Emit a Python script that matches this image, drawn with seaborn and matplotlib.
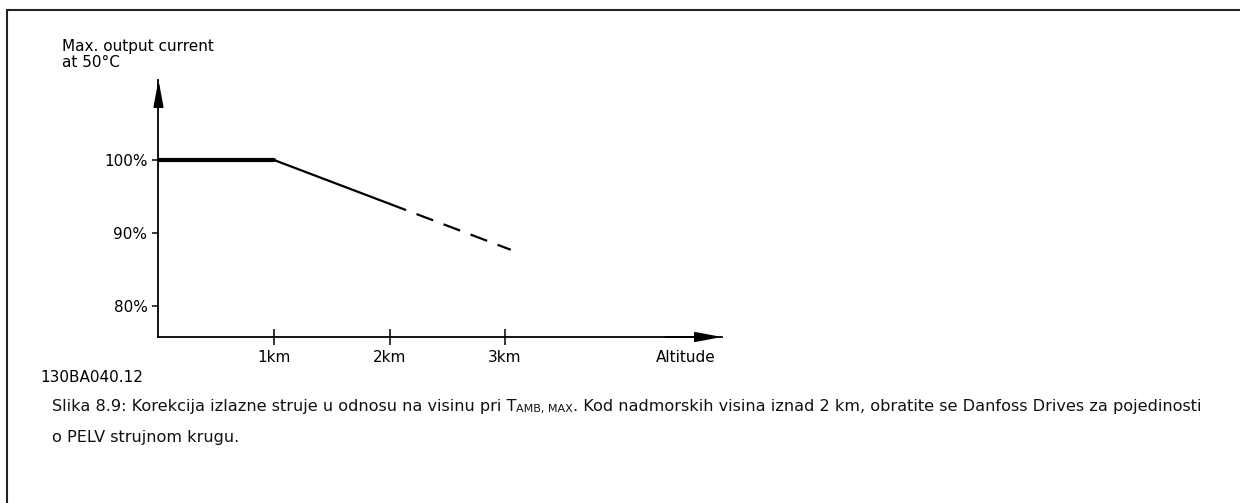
import matplotlib
matplotlib.use("Agg")
import matplotlib.pyplot as plt
import pandas as pd
import seaborn as sns
from matplotlib.lines import Line2D

# derating curve
altitude_km = [0, 1, 2, 3.05]
current_pct = [100, 100, 94, 87.7]
x_ticks = [1, 2, 3]
x_tick_labels = ["1km", "2km", "3km"]
y_ticks = [80, 90, 100]
y_tick_labels = ["80%", "90%", "100%"]

Y_TITLE = "Max. output current\nat 50°C"
X_TITLE = "Altitude"
DRAWING_ID = "130BA040.12"
CAPTION_1A = "Slika 8.9: Korekcija izlazne struje u odnosu na visinu pri T"
CAPTION_SUB = "AMB, MAX"
CAPTION_1B = ". Kod nadmorskih visina iznad 2 km, obratite se Danfoss Drives za pojedinosti"
CAPTION_2 = "o PELV strujnom krugu."

W, H = 1240, 503


def fx(px):
    return px / W


def fy(py):
    return 1 - py / H


sns.set_theme(style="white")
plt.rcParams["font.family"] = ["DejaVu Sans"]
plt.rcParams["text.color"] = "black"

fig = plt.figure(figsize=(12.4, 5.03), dpi=100)
ax = fig.add_axes([fx(158.5), fy(337), fx(722 - 158.5), (337 - 80) / H])

df = pd.DataFrame({"altitude": altitude_km, "current": current_pct})
sns.lineplot(data=df.iloc[0:2], x="altitude", y="current", color="black", lw=3, ax=ax)
sns.lineplot(data=df.iloc[1:3], x="altitude", y="current", color="black", lw=1.6, ax=ax)
sns.lineplot(data=df.iloc[2:4], x="altitude", y="current", color="black", lw=1.6,
             linestyle=(0, (8, 5)), ax=ax)

ax.set_xlim(0, (722 - 158.5) / 115.5)
ax.set_ylim(100 - (337 - 160) / 7.3, 100 + (160 - 80) / 7.3)

for side in ["top", "right"]:
    ax.spines[side].set_visible(False)
for side in ["left", "bottom"]:
    ax.spines[side].set_color("black")
    ax.spines[side].set_linewidth(1.3)

ax.set_xticks(x_ticks, x_tick_labels)
ax.set_yticks(y_ticks, y_tick_labels)
ax.tick_params(axis="x", bottom=True, direction="inout", length=11, width=1.1,
               color="black", labelcolor="black", labelsize=11, pad=3.5)
ax.tick_params(axis="y", left=True, direction="out", length=4, width=1.1,
               color="black", labelcolor="black", labelsize=11, pad=4)
ax.set_xlabel("")
ax.set_ylabel("")

# axis arrows
ax.annotate("", xy=(1, 0), xytext=(0.9, 0), xycoords="axes fraction",
            arrowprops=dict(arrowstyle="-|>,head_length=16,head_width=3", lw=1.3,
                            color="black", mutation_scale=1, shrinkA=0, shrinkB=0))
ax.annotate("", xy=(0, 1), xytext=(0, 0.9), xycoords="axes fraction",
            arrowprops=dict(arrowstyle="-|>,head_length=16,head_width=3", lw=1.3,
                            color="black", mutation_scale=1, shrinkA=0, shrinkB=0))

fig.text(fx(62), fy(70), Y_TITLE, fontsize=11, ha="left", va="bottom", linespacing=1.05)
fig.text(fx(716), fy(357), X_TITLE, fontsize=11, ha="right", va="center")
fig.text(fx(40), fy(378), DRAWING_ID, fontsize=11, ha="left", va="center")

cap = dict(fontsize=11.6, color="#111111")
t1 = fig.text(fx(52), fy(411), CAPTION_1A, ha="left", va="baseline", **cap)
t2 = ax.annotate(CAPTION_SUB, xy=(1, 0), xycoords=t1, fontsize=8, color="#111111",
                 ha="left", va="bottom", annotation_clip=False)
ax.annotate(CAPTION_1B, xy=(1, 0), xycoords=t2, ha="left", va="bottom",
            annotation_clip=False, **cap)
fig.text(fx(52), fy(442), CAPTION_2, ha="left", va="baseline", **cap)

# page frame (top and left edges)
fig.add_artist(Line2D([fx(7), 1], [fy(10), fy(10)], color="#222222", lw=1.5))
fig.add_artist(Line2D([fx(7), fx(7)], [fy(10), 0], color="#222222", lw=1.5))

fig.savefig("out.png", dpi=100, facecolor="white")
